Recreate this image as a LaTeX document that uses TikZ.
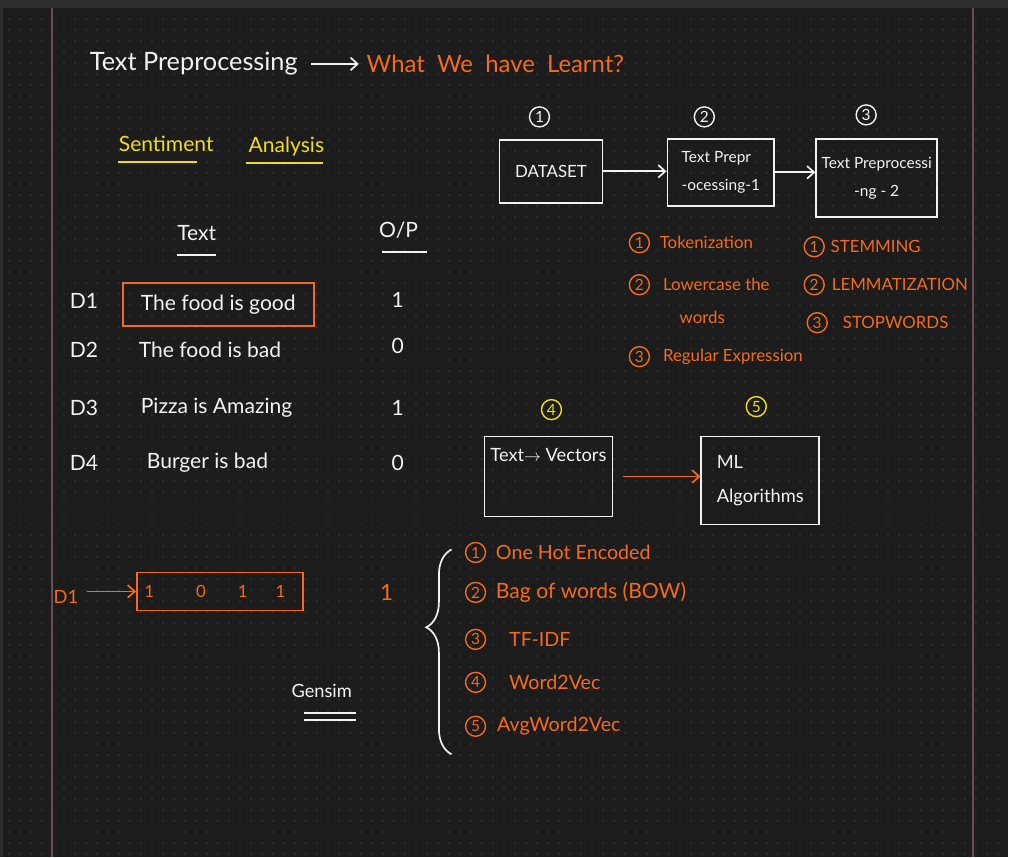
\documentclass[tikz,border=0pt]{standalone}
\usepackage{fontspec}
\setmainfont{Lato}
\usetikzlibrary{positioning,decorations.pathreplacing,arrows.meta}

\definecolor{board}{HTML}{1C1C1C}
\definecolor{topbar}{HTML}{2D2D2D}
\definecolor{margin}{HTML}{6A4C57}
\definecolor{dotc}{HTML}{2B2B2B}
\definecolor{inkw}{HTML}{F2F2F2}
\definecolor{inko}{HTML}{F46A1E}
\definecolor{inky}{HTML}{F0DC1E}

\begin{document}
\begin{tikzpicture}[x=0.025cm,y=-0.025cm,
  >={Straight Barb[length=5pt,width=9pt]},
  every node/.style={text=inkw, font=\fontsize{15}{18}\selectfont},
  wbox/.style={draw=inkw, line width=1.2pt, inner sep=2pt},
  circw/.style={circle, draw=inkw, line width=1pt, inner sep=0pt, minimum size=0.5cm, font=\fontsize{11}{11}\selectfont},
  circo/.style={circw, draw=inko, text=inko},
  circy/.style={circw, draw=inky, text=inky},
  otxt/.style={text=inko, anchor=west, font=\fontsize{12}{14}\selectfont},
  ltxt/.style={text=inko, anchor=west, font=\fontsize{14}{16}\selectfont},
  wline/.style={draw=inkw, line width=1.2pt},
  yline/.style={draw=inky, line width=1.2pt}]

% BOARD
\fill[board] (0,0) rectangle (1009,858);
\fill[topbar] (0,0) rectangle (1009,8);
\fill[topbar] (0,8) rectangle (3,858);
\foreach \y in {19,30,...,858}
  \draw[dotc, line width=1.4pt, dash pattern=on 0.05cm off 0.225cm] (8,\y) -- (1009,\y);
\draw[margin, line width=1pt] (52,8) -- (52,858);
\draw[margin, line width=1pt] (974,8) -- (974,858);

% TITLE
\node[anchor=west, font=\fontsize{18}{20}\selectfont] (title) at (85,64) {Text Preprocessing};
\node[anchor=west, text=inko, font=\fontsize{17}{20}\selectfont] (learnt) at (362,64) {What \ We \ have \ Learnt?};
\draw[->, inkw, line width=1.2pt, shorten <=6pt, shorten >=2pt] (title) -- (learnt);

\node[anchor=west, text=inky, font=\fontsize{15}{18}\selectfont] (senti) at (114,144) {Sentiment};
\node[anchor=west, text=inky, font=\fontsize{15}{18}\selectfont] (anal) at (244,147) {Analysis};
\draw[yline] (118,162) -- (197,162);
\draw[yline] (246,163) -- (323,163);

% PIPELINE
\node[circw] (n1) at (540,117) {1};
\node[circw] (n2) at (705,117) {2};
\node[circw] (n3) at (867,115) {3};

\node[wbox, minimum width=2.575cm, minimum height=1.575cm, font=\fontsize{12}{14}\selectfont] (data) at (551.5,171.5) {DATASET};
\node[wbox, minimum width=2.675cm, minimum height=1.675cm, align=left, font=\fontsize{11}{20}\selectfont] (prep1) at (721.5,172.5) {Text Prepr\\-ocessing-1};
\node[wbox, minimum width=3.025cm, minimum height=1.95cm, align=center, font=\fontsize{11}{20}\selectfont] (prep2) at (877.5,178) {Text Preprocessi\\-ng - 2};

\draw[->, inkw, line width=1.2pt] (data.east) -- (data.east -| prep1.west);
\draw[->, inkw, line width=1.2pt] (prep1.east) -- (prep1.east -| prep2.west);

\node[circo] (t1) at (640,243) {1};
\node[otxt, right=0.12cm of t1] (tok) {Tokenization};
\node[circo] (t2) at (640,285) {2};
\node[otxt, right=0.2cm of t2] (low) {Lowercase the};
\node[otxt, anchor=center] (words) at (703,318) {words};
\node[circo] (t3) at (640,357) {3};
\node[otxt, right=0.2cm of t3] (reg) {Regular Expression};

\node[circo] (s1) at (815,247) {1};
\node[otxt, right=0.02cm of s1] (stem) {STEMMING};
\node[circo] (s2) at (815,285) {2};
\node[otxt, right=0.05cm of s2] (lemma) {LEMMATIZATION};
\node[circo] (s3) at (818,323) {3};
\node[otxt, right=0.25cm of s3] (stop) {STOPWORDS};

\node[circy] (n4) at (552,410) {4};
\node[circy] (n5) at (757,407) {5};

\node[wbox, minimum width=3.2cm, minimum height=2cm] (vecbox) at (549,477) {};
\node[below=0.2cm of vecbox.north, font=\fontsize{13}{15}\selectfont] (vectxt) {Text$\rightarrow$ Vectors};
\node[wbox, minimum width=2.95cm, minimum height=2.2cm, align=left, font=\fontsize{13}{24}\selectfont] (mlbox) at (761,481) {ML\\Algorithms};
\draw[->, inko, line width=1.2pt] (vecbox.east) ++(0.25cm,0) coordinate (vecout) -- (vecout -| mlbox.west);

% TABLE
\node (texthd) at (197,233) {Text};
\node (ophd) at (399,230) {O/P};
\draw[wline] (177,255) -- (216,255);
\draw[wline] (382,252) -- (427,252);

\node (d1) at (84,301) {D1};
\node (d2) at (84,350) {D2};
\node (d3) at (84,408) {D3};
\node (d4) at (84,463) {D4};

\node[draw=inko, line width=1.2pt, minimum width=4.775cm, minimum height=1.075cm] (r1) at (218.5,304.5) {The food is good};
\node[anchor=west] (r2) at (134,350) {The food is bad};
\node[anchor=west] (r3) at (136,408) {Pizza is Amazing};
\node[anchor=west] (r4) at (142,463) {Burger is bad};

\node (o1) at (398,300) {1};
\node (o2) at (398,346) {0};
\node (o3) at (398,408) {1};
\node (o4) at (398,463) {0};

% VECTOR
\node[text=inko, font=\fontsize{13}{15}\selectfont] (dv) at (66,598) {D1};
\node[draw=inko, line width=1.2pt, minimum width=4.15cm, minimum height=0.95cm, text=inko, font=\fontsize{12}{14}\selectfont] (vec) at (220,592) {\hspace{-0.25cm}1\hspace{1.05cm}0\hspace{0.8cm}1\hspace{0.7cm}1};
\draw[->, inko, line width=1.2pt] (dv.east |- vec.west) ++(0.1cm,0) coordinate (dvout) -- (vec.west);
\node[text=inko, font=\fontsize{16}{18}\selectfont] (vout) at (387,593) {1};

% NOTES
\coordinate (bracetop) at (452,550);
\coordinate (bracebot) at (452,755);
\draw[inkw, line width=1.2pt, decorate, decoration={brace, amplitude=18pt, aspect=0.62}] (bracebot) -- (bracetop);

\node[circo] (e1) at (476,553) {1};
\node[ltxt, right=0.12cm of e1] (onehot) {One Hot Encoded};
\node[circo] (e2) at (476,593) {2};
\node[ltxt, right=0.12cm of e2, font=\fontsize{15}{18}\selectfont] (bow) {Bag of words (BOW)};
\node[circo] (e3) at (476,640) {3};
\node[ltxt, right=0.45cm of e3] (tfidf) {TF-IDF};
\node[circo] (e4) at (476,683) {4};
\node[ltxt, right=0.45cm of e4] (w2v) {Word2Vec};
\node[circo] (e5) at (476,727) {5};
\node[ltxt, right=0.15cm of e5] (avgw2v) {AvgWord2Vec};

\node[font=\fontsize{13}{15}\selectfont] (gensim) at (322,692) {Gensim};
\draw[wline] (304,714) -- (356,714);
\draw[wline] (304,721) -- (356,721);

\end{tikzpicture}
\end{document}
